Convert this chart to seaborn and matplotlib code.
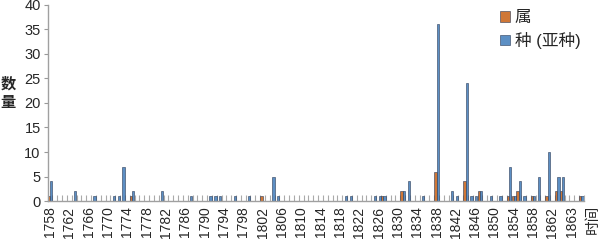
import numpy as np
import pandas as pd
import matplotlib
matplotlib.use("Agg")
import matplotlib.pyplot as plt
import seaborn as sns

# categories on the x axis (one per bar group)
periods = [str(y) for y in range(1758, 1863)] + ["1862a", "1862b", "1862c", "1863", "1863a", "1863b"]

# labels shown under every 4th group
tick_labels = [str(y) for y in range(1758, 1863, 4)] + ["1863"]

series_names = ["属", "种 (亚种)"]

# 属
genus = [
    1, 0, 0, 0, 0, 0, 0, 0, 0, 0,
    0, 0, 0, 0, 0, 0, 0, 1, 0, 0,
    0, 0, 0, 0, 0, 0, 0, 0, 0, 0,
    0, 0, 0, 0, 0, 0, 0, 0, 0, 0,
    0, 0, 0, 0, 1, 0, 0, 0, 0, 0,
    0, 0, 0, 0, 0, 0, 0, 0, 0, 0,
    0, 0, 0, 0, 0, 0, 0, 0, 0, 1,
    0, 0, 0, 2, 0, 0, 0, 0, 0, 0,
    6, 0, 0, 0, 0, 0, 4, 0, 0, 2,
    0, 0, 0, 0, 0, 1, 1, 2, 0, 0,
    1, 0, 0, 1, 0, 2, 2, 0, 0, 0, 1,
]

# 种 (亚种)
species = [
    4, 0, 0, 0, 0, 2, 0, 0, 0, 1,
    0, 0, 0, 1, 1, 7, 0, 2, 0, 0,
    0, 0, 0, 2, 0, 0, 0, 0, 0, 1,
    0, 0, 0, 1, 1, 1, 0, 0, 1, 0,
    0, 1, 0, 0, 0, 0, 5, 1, 0, 0,
    0, 0, 0, 0, 0, 0, 0, 0, 0, 0,
    0, 1, 1, 0, 0, 0, 0, 1, 1, 1,
    0, 0, 0, 2, 4, 0, 0, 1, 0, 0,
    36, 0, 0, 2, 1, 0, 24, 1, 1, 2,
    0, 1, 0, 1, 0, 7, 1, 4, 1, 0,
    1, 5, 0, 10, 0, 5, 5, 0, 0, 0, 1,
]

df = pd.DataFrame({
    "period": periods * 2,
    "series": [series_names[0]] * len(periods) + [series_names[1]] * len(periods),
    "count": genus + species,
})

sns.set_style("white")
plt.rcParams["font.family"] = ["Liberation Sans", "Noto Sans CJK SC", "DejaVu Sans"]

fig = plt.figure(figsize=(6.06, 2.44), dpi=100)
ax = fig.add_axes([0.0785, 0.176, 0.885, 0.804])

sns.barplot(
    data=df,
    x="period",
    y="count",
    hue="series",
    order=periods,
    hue_order=series_names,
    palette=["#E8731E", "#4A8FD6"],
    width=0.95,
    edgecolor="#2b3a55",
    linewidth=0.4,
    ax=ax,
)

ax.set_xlim(-0.5, len(periods) - 0.5)
ax.set_ylim(0, 40)
ax.set_yticks(np.arange(0, 41, 5))
ax.tick_params(axis="y", left=True, direction="out", length=3, color="#999999", labelsize=10.5, pad=2)

ax.set_xticks(np.arange(0, len(periods), 4))
ax.set_xticklabels(tick_labels, rotation=90, fontsize=10)
ax.set_xticks(np.arange(-0.5, len(periods), 1), minor=True)
ax.tick_params(axis="x", which="major", bottom=True, length=0, pad=4)
ax.tick_params(axis="x", which="minor", bottom=True, direction="in", length=4, color="#aaaaaa", width=0.8)

for s in ["top", "right"]:
    ax.spines[s].set_visible(False)
for s in ["left", "bottom"]:
    ax.spines[s].set_color("#a0a0a0")
    ax.spines[s].set_linewidth(1)

ax.set_xlabel("")
ax.set_ylabel("")

handles, labels = ax.get_legend_handles_labels()
ax.legend(
    handles, labels,
    loc="upper left",
    bbox_to_anchor=(0.8, 1.02),
    bbox_transform=fig.transFigure,
    frameon=False,
    fontsize=12,
    handlelength=0.6,
    handleheight=0.6,
    handletextpad=0.3,
    labelspacing=0.4,
)

fig.text(0.014, 0.615, "数\n量", fontsize=11, fontweight="bold",
         linespacing=1.4, ha="center", va="center")
fig.text(0.978, 0.1, "时间", fontsize=10.5, rotation=90, ha="center", va="center")

fig.savefig("out.png", dpi=100)
